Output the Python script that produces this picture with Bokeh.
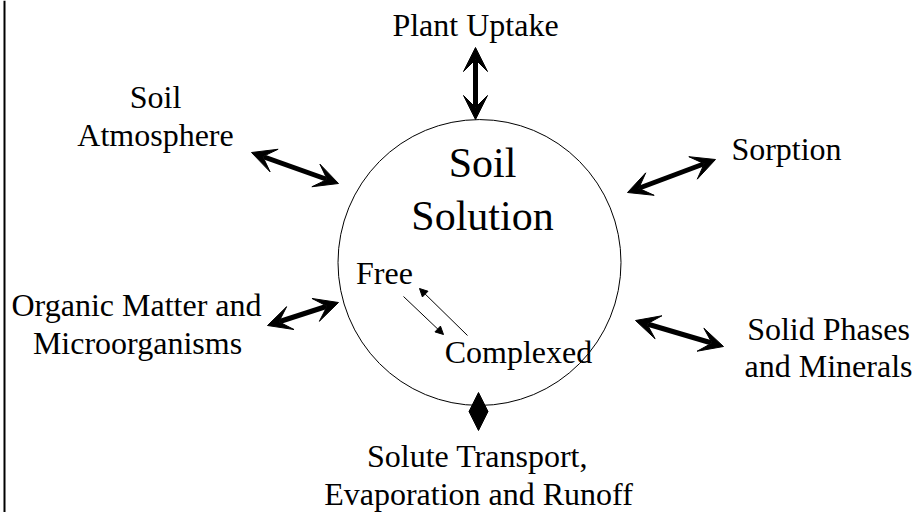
from bokeh.plotting import figure
from bokeh.models import ColumnDataSource, Arrow, VeeHead, NormalHead, Range1d
from bokeh.core.properties import value
from bokeh.embed import file_html
from bokeh.resources import INLINE

# ---- diagram content (reference pixel coordinates, y grows downward) ----
label_text = ["Plant Uptake", "Soil", "Atmosphere", "Sorption",
              "Organic Matter and", "Microorganisms",
              "Solid Phases", "and Minerals",
              "Solute Transport,", "Evaporation and Runoff",
              "Free", "Complexed"]
label_x = [475, 155, 155, 786, 136, 137, 828, 828, 477, 478, 384, 518]
label_y = [24, 96, 134, 148, 304, 342, 328, 365, 455, 493, 272, 351]

center_text = ["Soil", "Solution"]
center_x = [482, 482]
center_y = [162, 215]

circle_x = [479]
circle_y = [262]
circle_w = [283]
circle_h = [286]

# thick double-headed arrows
big_x0 = [475, 251, 627, 267, 635]
big_y0 = [47, 152, 192, 325, 320]
big_x1 = [475, 338, 715, 338, 723]
big_y1 = [119, 183, 159, 302, 346]

# short double-headed arrow at the bottom of the circle
low_x0 = [478]
low_y0 = [392]
low_x1 = [478]
low_y1 = [430]

# thin single-headed arrows (Free <-> Complexed)
thin_x0 = [403, 467]
thin_y0 = [296, 335]
thin_x1 = [443, 419]
thin_y1 = [334, 288]

border_x = [4, 4]
border_y = [0, 512]

p = figure(width=917, height=512, output_backend="svg", toolbar_location=None,
           x_range=Range1d(0, 917), y_range=Range1d(512, 0),
           x_axis_type=None, y_axis_type=None, min_border=0,
           outline_line_color=None, background_fill_color="white")
p.grid.visible = False

p.line(border_x, border_y, line_color="black", line_width=2)

p.ellipse(x=circle_x, y=circle_y, width=circle_w, height=circle_h,
          fill_color=None, line_color="black", line_width=1)

big = ColumnDataSource(dict(x0=big_x0, y0=big_y0, x1=big_x1, y1=big_y1))
p.add_layout(Arrow(source=big, x_start="x0", y_start="y0", x_end="x1", y_end="y1",
                   line_width=5, line_color="black",
                   start=VeeHead(size=24, fill_color="black", line_color="black", line_width=1),
                   end=VeeHead(size=24, fill_color="black", line_color="black", line_width=1)))

low = ColumnDataSource(dict(x0=low_x0, y0=low_y0, x1=low_x1, y1=low_y1))
p.add_layout(Arrow(source=low, x_start="x0", y_start="y0", x_end="x1", y_end="y1",
                   line_width=4, line_color="black",
                   start=NormalHead(size=19, fill_color="black", line_color="black", line_width=1),
                   end=NormalHead(size=19, fill_color="black", line_color="black", line_width=1)))

thin = ColumnDataSource(dict(x0=thin_x0, y0=thin_y0, x1=thin_x1, y1=thin_y1))
p.add_layout(Arrow(source=thin, x_start="x0", y_start="y0", x_end="x1", y_end="y1",
                   line_width=1, line_color="black",
                   end=NormalHead(size=8, fill_color="black", line_color="black", line_width=1)))

p.text(x=label_x, y=label_y, text=label_text, text_font=value("Liberation Serif"),
       text_font_size="32px", text_align="center", text_baseline="alphabetic",
       text_color="black")
p.text(x=center_x, y=center_y, text=center_text, text_font=value("Liberation Serif"),
       text_font_size="42px", text_align="center", text_baseline="alphabetic",
       text_color="black")

open("out.html", "w").write(file_html(p, INLINE))
